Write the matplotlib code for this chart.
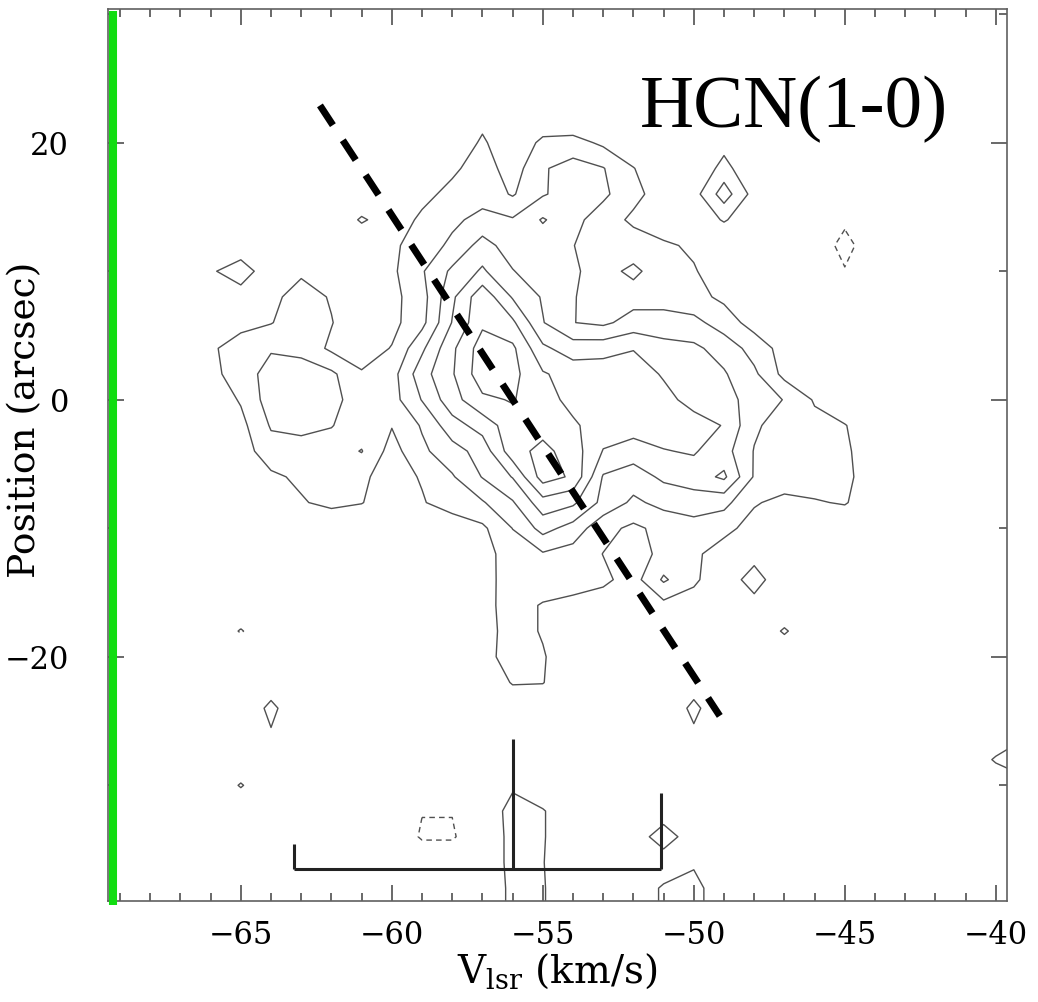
import numpy as np
import matplotlib
matplotlib.use("Agg")
import matplotlib.pyplot as plt
from matplotlib.lines import Line2D
from matplotlib.ticker import MultipleLocator

plt.rcParams['font.family'] = ['DejaVu Serif']
plt.rcParams['mathtext.fontset'] = 'dejavuserif'

# grid of the position-velocity map
vel = np.arange(-68, -38)          # km/s, 30 columns
pos = np.arange(28, -42, -2)       # arcsec, 35 rows

z10 = [0] * 10
hcn = [
    z10 + z10 + z10,                                                       # 28
    z10 + z10 + z10,                                                       # 26
    z10 + z10 + z10,                                                       # 24
    z10 + [0, .6, 0, 0, 0, 0, 0, 0, 0, 0] + z10,                           # 22
    z10 + [0, 1.2, 0, 1.3, 1.4, .8, 0, 0, 0, .6] + z10,                    # 20
    z10 + [.8, 1.5, .5, 1.9, 2.4, 2.05, 1.05, 0, 0, 1.4] + z10,            # 18
    [0, 0, 0, 0, 0, 0, 0, 0, 0, .7] + [1.3, 1.6, .9, 1.9, 2.5, 2.2, 1.3, .5, .6, 2.5]
    + [.6, 0, 0, 0, 0, 0, 0, 0, 0, 0],                                     # 16
    [0, 0, 0, 0, 0, 0, 0, 1.15, .4, 1.2] + [1.8, 2.3, 2.1, 3.1, 2.3, 1.5, .8, .2, .3, 1.1]
    + [.3, 0, 0, -.7, 0, 0, 0, 0, 0, 0],                                   # 14
    [0, 0, 0, 0, 0, 0, 0, 0, .8, 1.5] + [2.2, 3.4, 2.5, 2.4, 2.02, 1.6, 1.5, 1.2, .8, 0]
    + [0, 0, 0, -1.5, 0, 0, 0, 0, 0, 0],                                   # 12
    [0, 0, .8, 1.8, 0, .8, .5, 0, .8, 1.9] + [3.2, 4.15, 3.05, 2.4, 2.1, 1.7, 2.2, 1.5, 1.1, .3]
    + [0, 0, 0, -.9, 0, 0, 0, 0, 0, 0],                                    # 10
    [0, 0, 0, .3, .7, 1.5, .9, .2, .7, 1.6] + [3.8, 5.7, 3.9, 2.9, 2.05, 1.6, 1.6, 1.5, 1.3, .8]
    + [.2, 0, 0, 0, 0, 0, 0, 0, 0, 0],                                     # 8
    [0, 0, 0, .6, .95, 1.6, 1.05, .2, .7, 1.7] + [4.05, 5.8, 5.2, 3.05, 2.02, 1.8, 2.4, 2.5, 2.3, 1.5]
    + [.6, 0, 0, 0, 0, 0, 0, 0, 0, 0],                                     # 6
    [0, 0, .8, 1.6, 1.9, 1.7, .8, .5, 1.05, 2.8] + [4.8, 6.5, 6.2, 4.2, 3.5, 3.6, 3.95, 3.3, 3.2, 2.6]
    + [1.6, .6, 0, 0, 0, 0, 0, 0, 0, 0],                                   # 4
    [0, 0, .7, 1.5, 2.4, 2.5, 2.2, 1.1, 1.6, 3.6] + [4.9, 6.6, 6.3, 5.1, 4.6, 4.6, 4.5, 3.9, 3.6, 3.1]
    + [2.2, .7, 0, 0, 0, 0, 0, 0, 0, 0],                                   # 2
    [0, 0, .3, 1.1, 2.5, 2.6, 2.3, 1.5, 1.6, 3.05] + [4.6, 5.8, 6.07, 5.4, 4.7, 4.6, 4.5, 4.3, 3.66, 3.3]
    + [2.66, 1.95, .9, .2, 0, 0, 0, 0, 0, 0],                              # 0
    [0, 0, 0, .7, 2.1, 2.2, 2.05, 1.4, 1.05, 2.1] + [3.6, 4.4, 5.6, 5.6, 5.15, 4.5, 4.5, 4.5, 4.4, 3.95]
    + [2.17, 1.5, 1.3, 1.05, .3, 0, 0, 0, 0, 0],                           # -2
    [0, 0, 0, .5, 1.6, 1.7, 1.5, 2.05, .6, 1.8] + [2.6, 3.4, 5.6, 6.3, 5.5, 3.95, 3.5, 3.95, 4.1, 3.4]
    + [1.95, 1.6, 1.5, 1.2, .3, 0, 0, 0, 0, 0],                            # -4
    [0, 0, 0, .2, .8, 1.2, 1.4, 1.2, .5, 1.1] + [1.9, 3.05, 4.05, 6.45, 5.84, 2.9, 2.5, 3.2, 3.5, 4.2]
    + [1.9, 1.6, 1.6, 1.3, .3, 0, 0, 0, 0, 0],                             # -6
    [0, 0, 0, 0, 0, .9, 1.3, 1.05, .3, .9] + [1.6, 1.9, 2.9, 4.6, 4.2, 2.7, 1.8, 2.3, 2.5, 2.3]
    + [1.1, .7, .9, 1.1, .2, 0, 0, 0, 0, 0],                               # -8
    z10 + [.2, .8, 2.02, 3.36, 2.6, 1.3, .8, 1.3, 1.6, 1.3]
    + [.6, .2, 0, 0, 0, 0, 0, 0, 0, 0],                                    # -10
    z10 + [0, .6, 1.5, 1.9, 1.6, .98, .5, 1.3, 1.2, .5]
    + [.5, 0, 0, 0, 0, 0, 0, 0, 0, 0],                                     # -12
    z10 + [0, .5, 1.6, 1.7, 1.6, 1.2, .6, 2.15, 1.2, .2]
    + [1.6, 0, 0, 0, 0, 0, 0, 0, 0, 0],                                    # -14
    z10 + [0, .6, 1.5, .9, .6, .5, .3, .7, .5, 0]
    + [.5, 0, 0, 0, 0, 0, 0, 0, 0, 0],                                     # -16
    [0, 0, 0, -1.1, 0, 0, 0, 0, 0, 0] + [0, .5, 1.5, .9, 0, 0, 0, 0, 0, 0]
    + [0, 1.15, 0, 0, 0, 0, 0, 0, 0, 0],                                   # -18
    z10 + [0, .5, 1.6, 1.1, .2, 0, 0, 0, 0, 0] + z10,                      # -20
    [0, 0, 0, 0, .3, 0, 0, 0, 0, 0] + [0, 0, 1.1, 1.05, 0, 0, 0, 0, .4, 0] + z10,   # -22
    [0, 0, 0, 0, 1.3, 0, 0, 0, 0, 0] + [0, 0, 0, 0, 0, 0, 0, 0, 1.3, 0] + z10,      # -24
    [0, 0, 0, 0, .9, 0, 0, 0, 0, 0] + [0, 0, 0, 0, 0, 0, 0, 0, .8, 0]
    + [0, 0, 0, 0, 0, 0, 0, 0, 0, .8],                                     # -26
    z10 + z10 + [0, 0, 0, 0, 0, 0, 0, 0, 1.15, 2.0],                       # -28
    [0, 0, 0, 1.1, 0, 0, 0, 0, 0, 0] + [0, 0, .8, 0, 0, 0, 0, 0, 0, 0]
    + [0, 0, 0, 0, 0, 0, 0, 0, 0, .5],                                     # -30
    [0, 0, 0, 0, 0, 0, 0, 0, 0, -.95] + [-.95, 0, 1.5, 1.1, 0, 0, 0, 0, 0, 0] + z10,  # -32
    [0, 0, 0, 0, 0, 0, 0, 0, 0, -1.15] + [-1.15, 0, 1.4, 1.1, 0, 0, 0, 1.9, 0, 0] + z10,  # -34
    z10 + [0, 0, 1.4, 1.05, 0, 0, 0, 0, .8, 0] + z10,                      # -36
    z10 + [0, 0, 1.3, 1.1, 0, 0, 0, 1.2, 1.5, 0] + z10,                    # -38
    z10 + [0, 0, 1.3, 1.1, 0, 0, 0, 1.2, 1.5, 0] + z10,                    # -40
]
pos_levels = [1, 2, 3, 4, 5, 6]
neg_levels = [-1]

# dashed guide line and velocity marker bar
guide_v = [-62.38, -49.14]
guide_p = [22.9, -24.6]
bar_v = [-63.25, -55.99, -51.09]
bar_top = [-34.55, -26.4, -30.6]
bar_base = -36.5

fig = plt.figure(figsize=(10.38, 10.02), dpi=100)
ax = fig.add_axes([0.1040, 0.1008, 0.8661, 0.8902])

data = np.array(hcn)
ax.contour(vel, pos, data, levels=pos_levels, colors='#505050', linewidths=1.0)
ax.contour(vel, pos, data, levels=neg_levels, colors='#505050', linewidths=1.0,
           linestyles=[(0, (4, 3))])

ax.plot(guide_v, guide_p, color='black', lw=5, linestyle=(0, (3.4, 2.6)))
ax.hlines(bar_base, bar_v[0], bar_v[-1], color='#222222', lw=2.2)
ax.vlines(bar_v, bar_base, bar_top, color='#222222', lw=2.2)

ax.set_xlim(-69.4, -39.63)
ax.set_ylim(-39.0, 30.4)

ax.xaxis.set_major_locator(MultipleLocator(5))
ax.xaxis.set_minor_locator(MultipleLocator(1))
ax.yaxis.set_major_locator(MultipleLocator(20))
ax.yaxis.set_minor_locator(MultipleLocator(10))
ax.tick_params(which='both', direction='in', top=True, right=True,
               color='#404040', width=1.1, labelsize=22)
ax.tick_params(which='major', length=11.5)
ax.tick_params(which='minor', length=5.8)
ax.tick_params(axis='x', pad=14)
ax.tick_params(axis='y', pad=28)
for s in ax.spines.values():
    s.set_color('#606060')
    s.set_linewidth(1.2)

ax.set_xlabel(r'V$_{\mathrm{lsr}}$ (km/s)', fontsize=28, labelpad=0)
ax.set_ylabel('Position (arcsec)', fontsize=27)
ax.yaxis.set_label_coords(-0.072, 0.54)

ax.text(0.592, 0.867, 'HCN(1-0)', transform=ax.transAxes, fontsize=54,
        family='Liberation Serif', va='baseline', ha='left')

# green marker along the left edge
fig.add_artist(Line2D([0.1089, 0.1089], [0.0968, 0.989], transform=fig.transFigure,
                      color='#11dd11', lw=5.8, solid_capstyle='butt'))

fig.savefig('out.png', dpi=100)
